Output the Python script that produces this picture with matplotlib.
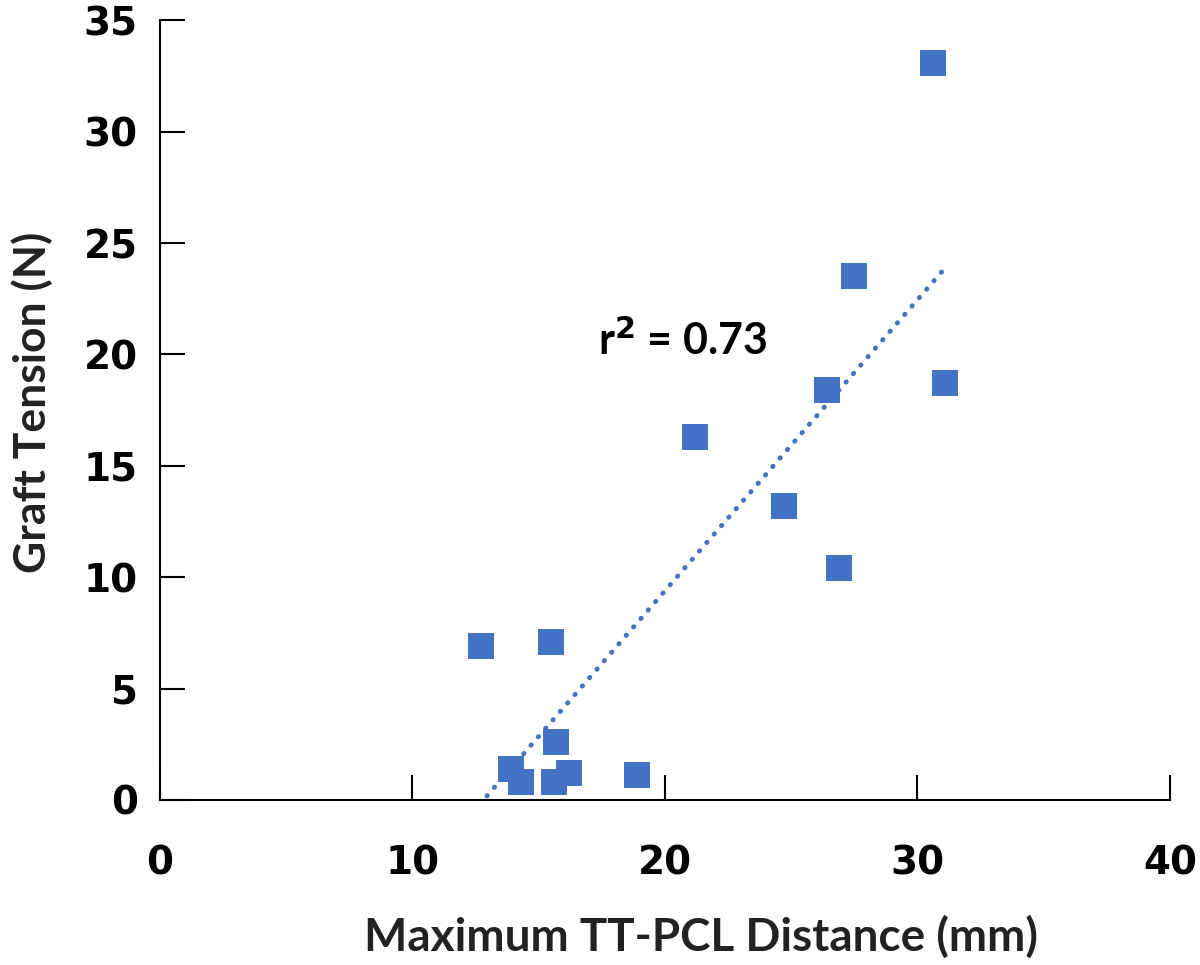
import numpy as np
import matplotlib.pyplot as plt

# values
distance = [12.7, 15.5, 13.9, 14.3, 15.7, 15.6, 16.2, 18.9, 21.2, 24.7, 26.4, 26.9, 27.5, 30.6, 31.1]
tension = [6.9, 7.1, 1.4, 0.8, 2.6, 0.8, 1.2, 1.1, 16.3, 13.2, 18.4, 10.4, 23.5, 33.1, 18.7]
r2_label = 'r$^{\\mathbf{2}}$ = 0.73'

blue = '#4472C4'

fig = plt.figure(figsize=(12, 9.65), dpi=100)
ax = fig.add_axes([0.1333, 0.171, 0.8417, 0.808])

ax.scatter(distance, tension, marker='s', s=19**2, color=blue, zorder=3, linewidths=0)

# linear trendline
slope, intercept = np.polyfit(distance, tension, 1)
xs = np.array([12.95, 31.0])
ax.plot(xs, slope * xs + intercept, color=blue, linestyle=(0, (0.1, 2.2)),
        linewidth=3.5, dash_capstyle='round', zorder=2)

ax.text(20.7, 20.6, r2_label, fontsize=31, fontweight='bold', family='Lato',
        ha='center', va='center')

ax.set_xlim(0, 40)
ax.set_ylim(0, 35)
ax.set_xticks(range(0, 41, 10))
ax.set_yticks(range(0, 36, 5))
ax.spines['top'].set_visible(False)
ax.spines['right'].set_visible(False)
for s in ['left', 'bottom']:
    ax.spines[s].set_linewidth(1.5)
ax.tick_params(direction='in', length=18, width=1.5, labelsize=28)
ax.tick_params(axis='x', pad=32)
ax.tick_params(axis='y', pad=16)
for lab in ax.get_xticklabels() + ax.get_yticklabels():
    lab.set_fontweight('bold')
    lab.set_family('DejaVu Sans')

ax.set_xlabel('Maximum TT-PCL Distance (mm)', fontsize=33, fontweight='bold',
              family='Lato', color='#222222')
ax.set_ylabel('Graft Tension (N)', fontsize=32, fontweight='bold',
              family='Lato', color='#222222')
ax.xaxis.set_label_coords(0.536, -0.148)
ax.yaxis.set_label_coords(-0.106, 0.51)

fig.savefig('out.png', dpi=100)
